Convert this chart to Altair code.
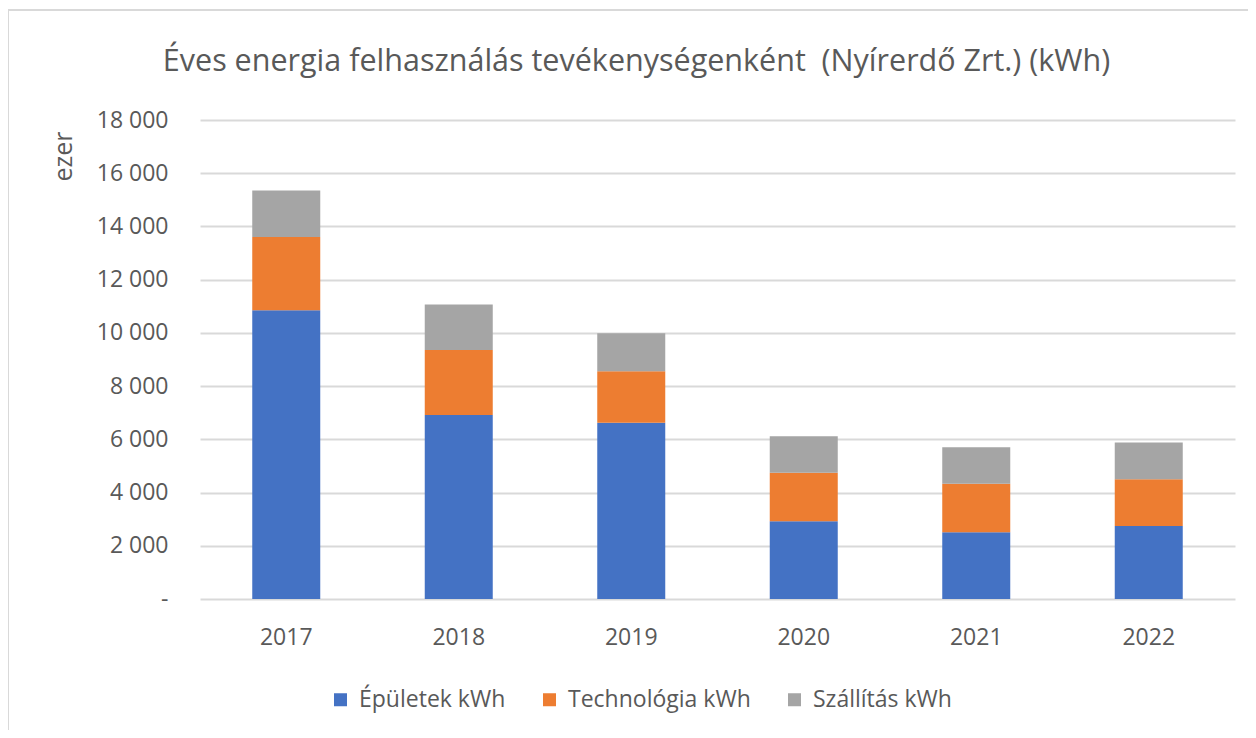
import altair as alt
import pandas as pd

years = ["2017", "2018", "2019", "2020", "2021", "2022"]
series = ["Épületek kWh", "Technológia kWh", "Szállítás kWh"]
epuletek = [10850, 6910, 6620, 2920, 2510, 2740]
technologia = [2750, 2450, 1940, 1820, 1820, 1760]
szallitas = [1750, 1710, 1430, 1380, 1370, 1380]
colors = ["#4472C4", "#ED7D31", "#A5A5A5"]
y_ticks = [0, 2000, 4000, 6000, 8000, 10000, 12000, 14000, 16000, 18000]

rows = []
for i, y in enumerate(years):
    for k, (s, vals) in enumerate(zip(series, [epuletek, technologia, szallitas])):
        rows.append({"year": y, "series": s, "value": vals[i], "order": k})
df = pd.DataFrame(rows)

FONT = "Open Sans"
TXT = "#595959"

bars = alt.Chart(df).mark_bar(size=68).encode(
    x=alt.X("year:N", sort=years, title=None,
            scale=alt.Scale(paddingInner=0.6, paddingOuter=0.3),
            axis=alt.Axis(labelAngle=0, ticks=False, tickSize=0, domain=False,
                          labelFont=FONT, labelFontSize=23, labelColor=TXT,
                          labelPadding=27, grid=False)),
    y=alt.Y("value:Q", stack="zero", title="ezer",
            scale=alt.Scale(domain=[0, 18000], nice=False),
            axis=alt.Axis(values=y_ticks, ticks=False, tickSize=0, domain=False,
                          labelFont=FONT, labelFontSize=23, labelColor=TXT,
                          labelPadding=32,
                          labelExpr="datum.value == 0 ? '-\u00a0\u00a0' : replace(format(datum.value, ','), ',', ' ')",
                          gridColor="#D9D9D9", gridWidth=2,
                          titleFont=FONT, titleFontSize=25, titleColor=TXT,
                          titleFontWeight="normal", titleAngle=270,
                          titleX=-137, titleY=36, titleAlign="center",
                          titleBaseline="middle")),
    color=alt.Color("series:N", sort=series,
                    scale=alt.Scale(domain=series, range=colors),
                    legend=alt.Legend(title=None, orient="none", direction="horizontal",
                                      legendX=129, legendY=568, symbolType="square",
                                      symbolSize=169, symbolStrokeWidth=0,
                                      labelFont=FONT, labelFontSize=23,
                                      labelColor=TXT, labelOffset=7, labelLimit=400,
                                      columnPadding=32, padding=0)),
    order=alt.Order("order:Q"),
)

border = alt.Chart(pd.DataFrame({"a": [0]})).mark_rule(color="#D9D9D9", strokeWidth=2).encode(
    x=alt.value(-192), x2=alt.value(1060), y=alt.value(-110)
)
border2 = alt.Chart(pd.DataFrame({"a": [0]})).mark_rule(color="#D9D9D9", strokeWidth=2).encode(
    x=alt.value(-192), y=alt.value(-110), y2=alt.value(640)
)

chart = alt.layer(border, border2, bars).properties(
    width=1035, height=479,
    background="white",
    autosize=alt.AutoSizeParams(type="none"),
    padding={"left": 192, "top": 112, "right": 13, "bottom": 131},
    title=alt.Title("Éves energia felhasználás tevékenységenként \u00a0(Nyírerdő Zrt.) (kWh)",
                    font=FONT, fontSize=30.5, fontWeight="normal", color=TXT,
                    anchor="middle", dx=-81, offset=-68),
).configure_view(strokeWidth=0)

chart.save("out.html", embed_options={"renderer": "svg", "actions": False})
